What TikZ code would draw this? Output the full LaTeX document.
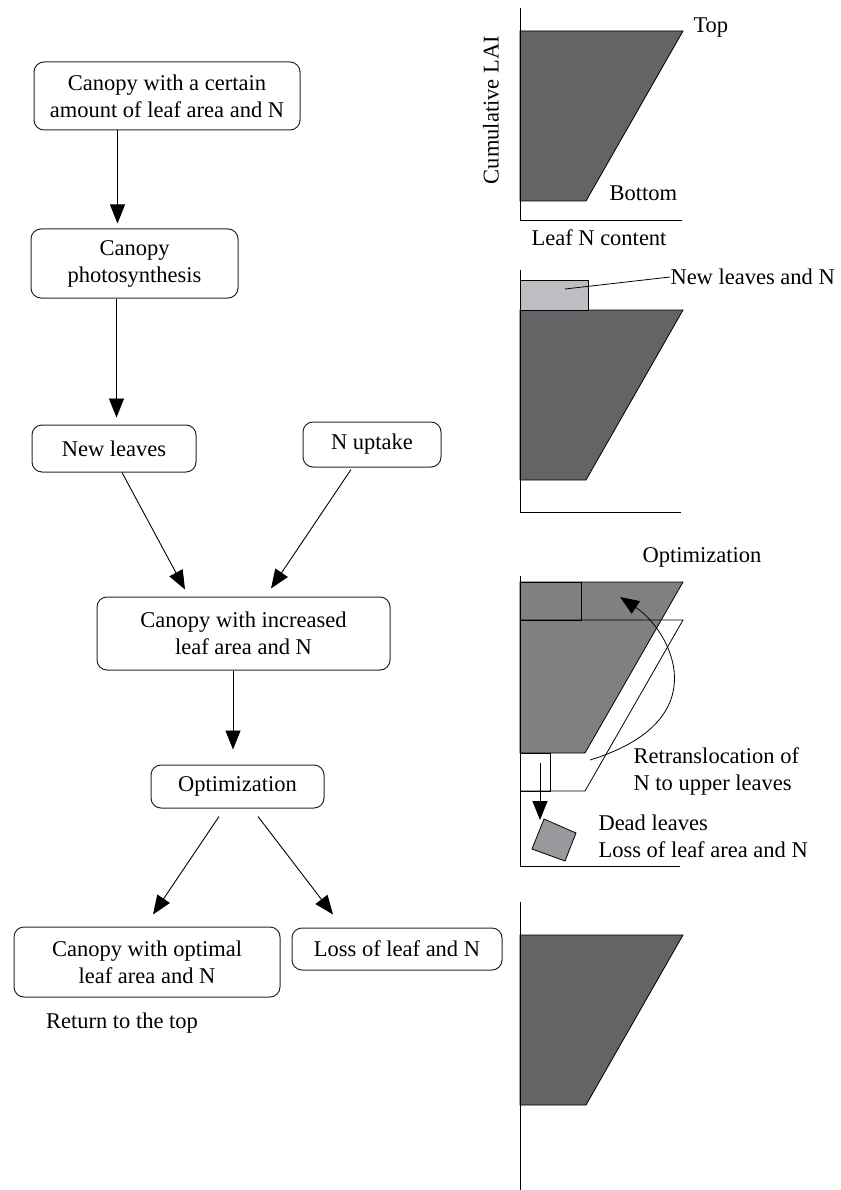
\documentclass[tikz,border=0pt]{standalone}
\usepackage{fontspec}
\setmainfont{Liberation Serif}
\usetikzlibrary{arrows.meta, positioning, calc}
\definecolor{leafdark}{HTML}{646466}
\definecolor{leafmid}{HTML}{808083}
\definecolor{leaflight}{HTML}{BDBEC1}
\definecolor{leafdead}{HTML}{98999C}

\begin{document}
\begin{tikzpicture}[x=1pt, y=-1pt, line width=1pt,
    box/.style={draw=black!85, rounded corners=10pt, align=center, inner sep=0pt,
      font=\fontsize{22.5}{27}\selectfont},
    lbl/.style={inner sep=0pt, font=\fontsize{22.5}{27}\selectfont},
    flow/.style={-{Triangle[length=19pt, width=15pt]}, line width=0.9pt},
    leaf/.style={fill=leafdark, draw=black, line width=0.8pt}]

      \useasboundingbox (0,0) rectangle (840,1190);

      \node[box, minimum width=266pt, minimum height=68pt] (start) at (167, 96) {Canopy with a certain\\amount of leaf area and N};
      \node[box, minimum width=207pt, minimum height=69pt] (photo) at (134.5, 263.5) {Canopy\\photosynthesis};
      \node[box, minimum width=164pt, minimum height=47pt] (newleaf) at (114, 448.5) {New leaves};
      \node[box, minimum width=138pt, minimum height=45pt] (uptake) at (372, 444.5) {N uptake};
      \node[box, minimum width=293pt, minimum height=73pt] (increased) at (243.5, 633.5) {Canopy with increased\\leaf area and N};
      \node[box, minimum width=173pt, minimum height=43pt] (optim) at (237.5, 786.5) {Optimization};
      \node[box, minimum width=266pt, minimum height=70pt] (optimal) at (147, 962) {Canopy with optimal\\leaf area and N};
      \node[box, minimum width=210pt, minimum height=42pt] (loss) at (397, 949) {Loss of leaf and N};
      \node[lbl] (return) at (122, 1023) {Return to the top};

      \draw[flow] ([xshift=84pt]start.south west) -- ([xshift=87pt, yshift=5pt]photo.north west);
      \draw[flow] ([xshift=86pt]photo.south west) -- ([xshift=85pt, yshift=7pt]newleaf.north west);
      \draw[flow] ([xshift=8pt]newleaf.south) -- ([xshift=-58.5pt, yshift=7pt]increased.north);
      \draw[flow] ([xshift=-21pt, yshift=-2pt]uptake.south) -- ([xshift=27.5pt, yshift=8pt]increased.north);
      \draw[flow] ([xshift=-10.5pt]increased.south) -- ([xshift=-4.5pt, yshift=15pt]optim.north);
      \draw[flow] ([xshift=-18.5pt, yshift=-8pt]optim.south) -- ([xshift=6pt, yshift=12pt]optimal.north);
      \draw[flow] ([xshift=20.5pt, yshift=-8pt]optim.south) -- ([xshift=-64pt, yshift=13pt]loss.north);

      \foreach \t in {31, 310, 935}
        \draw[leaf] (520, \t) -- (683, \t) -- (586, \t+170) -- (520, \t+170) -- cycle;

      \draw (520, 8) -- (520, 221) -- (682, 221);
      \node[lbl, anchor=west] (top) at (693, 28) {Top};
      \node[lbl, anchor=west] (bottom) at (609, 193) {Bottom};
      \node[lbl] (ncontent) at (599, 238) {Leaf N content};
      \node[lbl, rotate=90] (lai) at (491, 110) {Cumulative LAI};

      \draw (520, 270) -- (520, 512) -- (681, 512);
      \draw[fill=leaflight, line width=0.8pt] (520, 280) rectangle (588, 310);
      \node[lbl, anchor=west] (newn) at (670, 277) {New leaves and N};
      \draw[line width=0.8pt] (565, 289) -- (newn.west);

      \node[lbl] (optlabel) at (702, 557) {Optimization};
      \draw[fill=leafmid, line width=0.8pt] (520, 582) -- (683, 582) -- (585, 753) -- (520, 753) -- cycle;
      \draw (520, 582) rectangle (581, 620);
      \draw[line width=0.8pt] (520, 620) -- (683, 620) -- (585, 791) -- (520, 791);
      \draw[line width=0.8pt] (520, 753) rectangle (550, 791);
      \draw (520, 576) -- (520, 866) -- (680, 866);
      \draw[flow] (540, 763) -- (540, 820);
      \draw[fill=leafdead, line width=0.8pt] (544, 819) -- (576, 833) -- (565, 861) -- (532, 849) -- cycle;
      \draw[flow, line width=0.8pt] (590, 760) .. controls (720, 720) and (670, 630) .. (620, 597);
      \node[lbl, align=left, anchor=west] (retrans) at (633, 771) {Retranslocation of\\N to upper leaves};
      \node[lbl, align=left, anchor=west] (dead) at (598, 836) {Dead leaves\\Loss of leaf area and N};

      \draw (520, 902) -- (520, 1190);

    \end{tikzpicture}
\end{document}
